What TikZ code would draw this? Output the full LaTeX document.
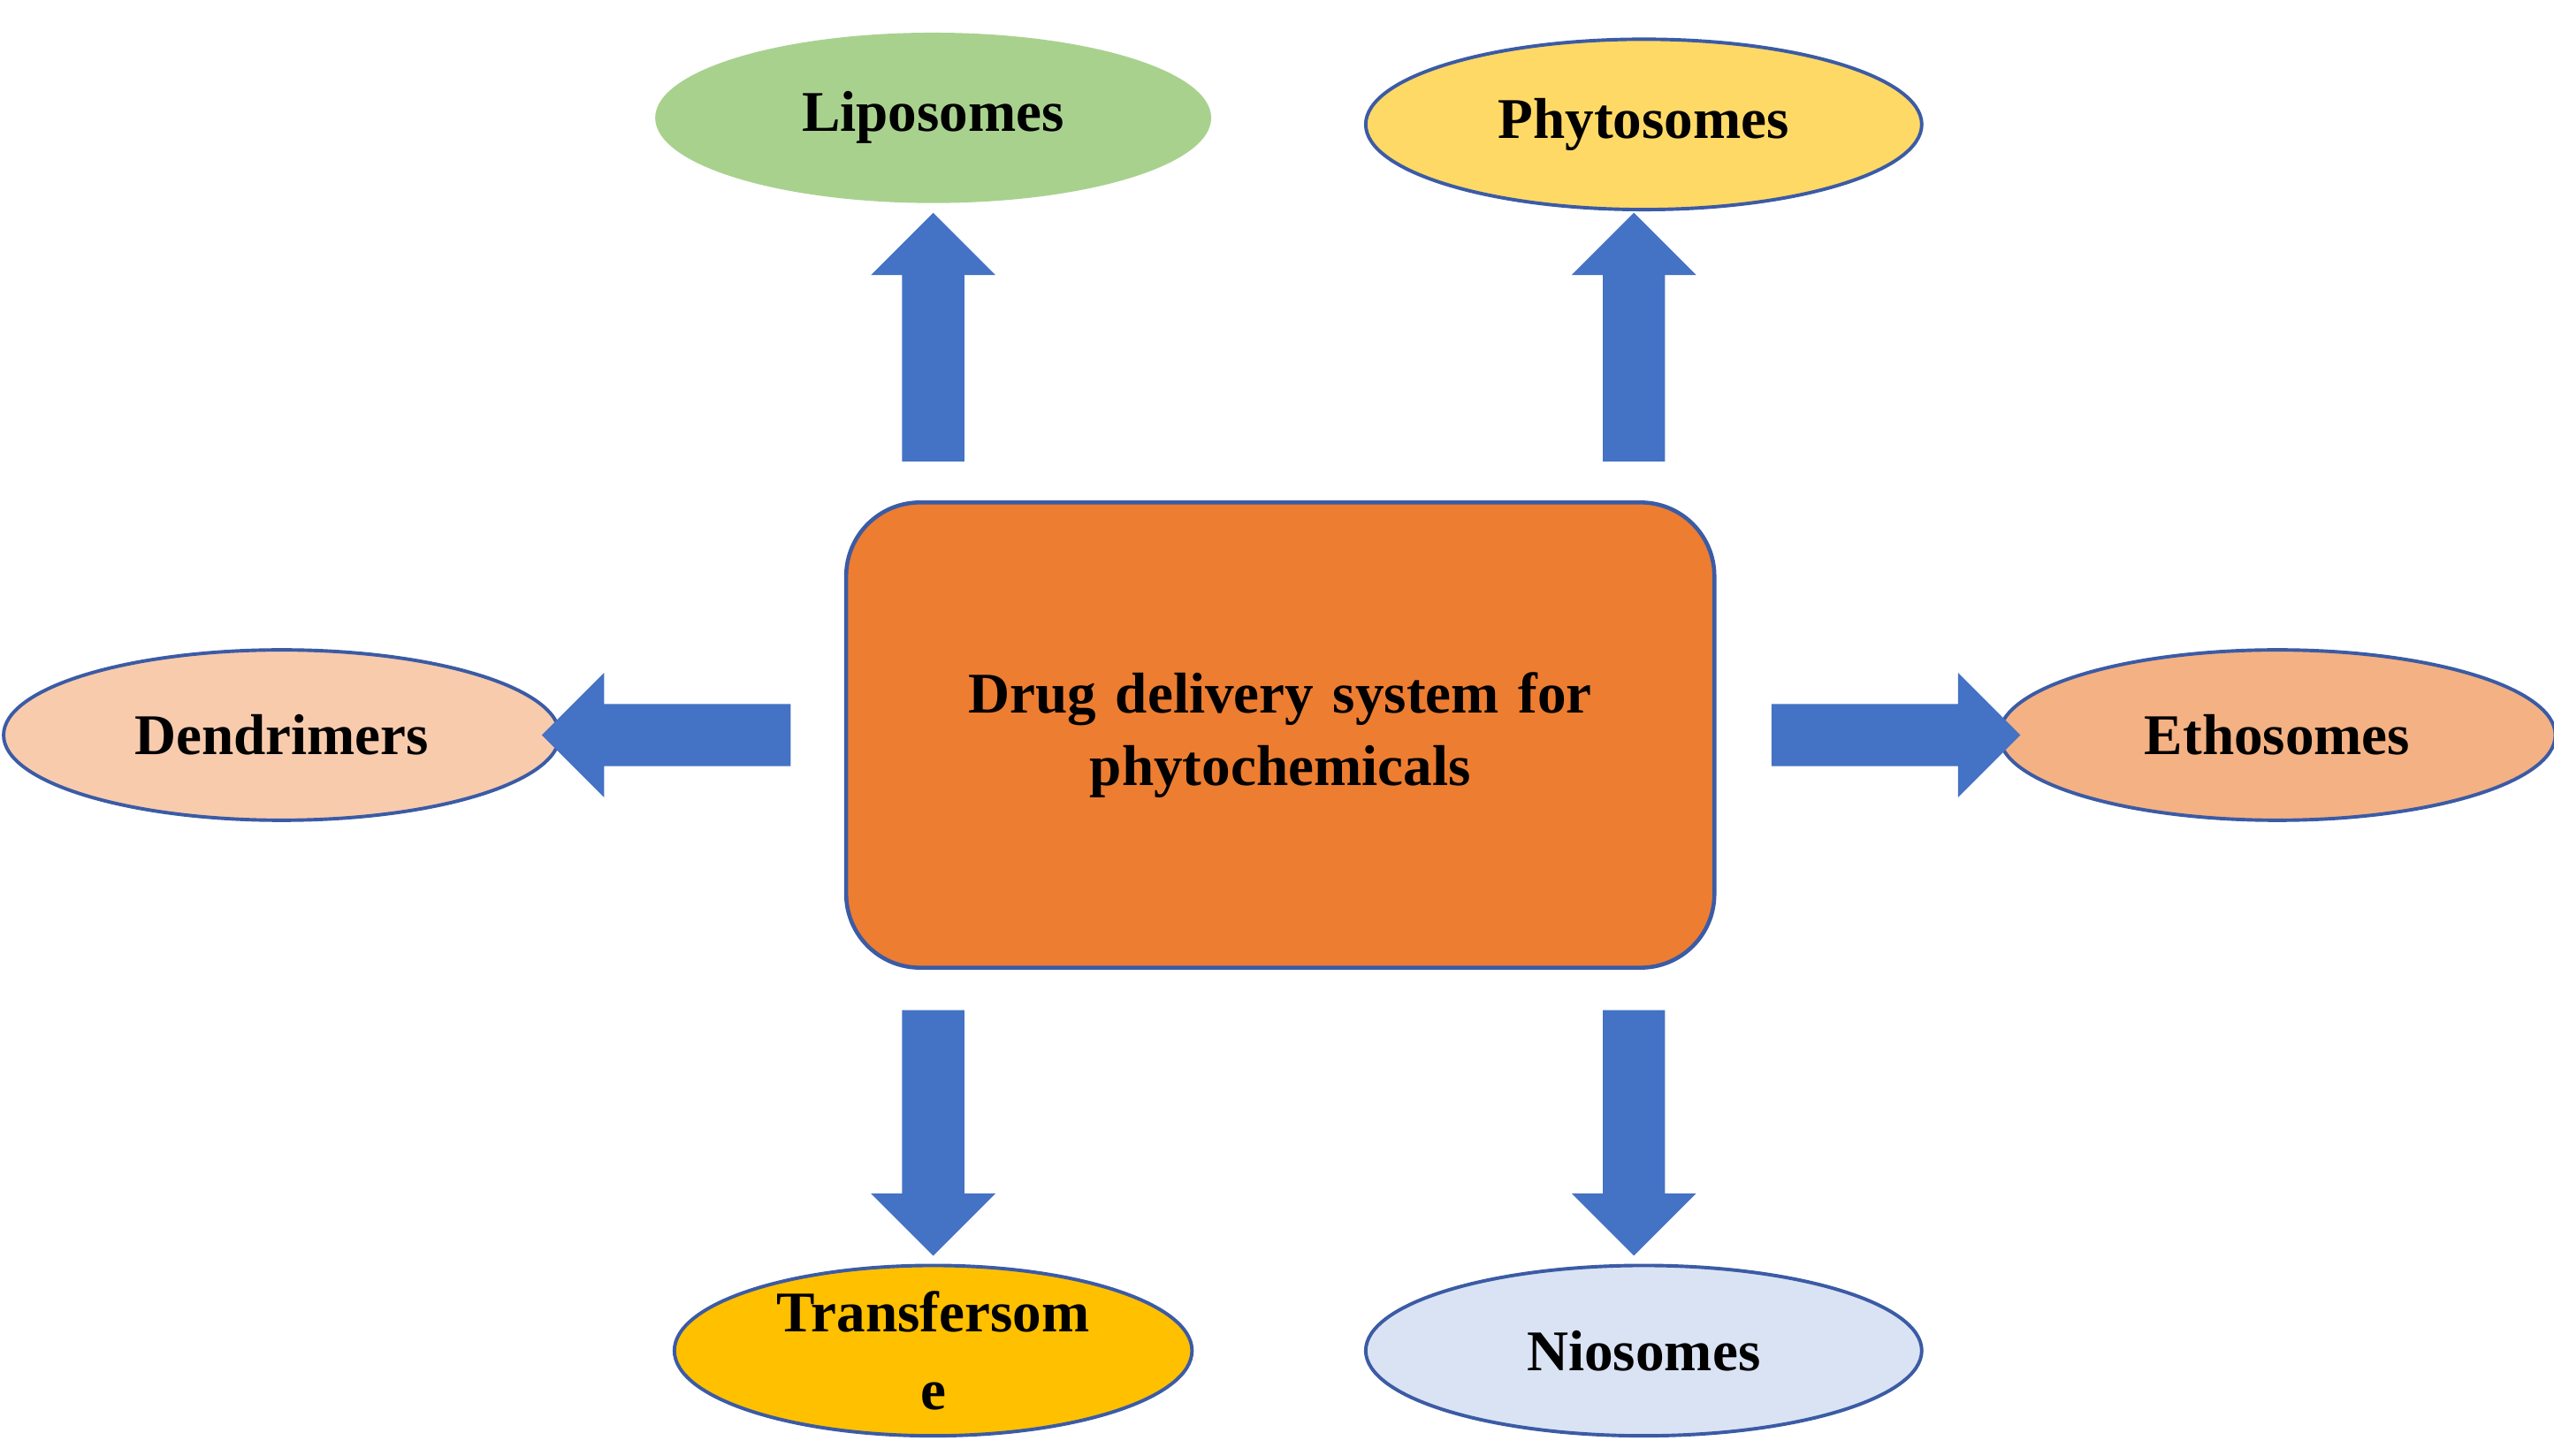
\documentclass[tikz,border=0pt]{standalone}
\usepackage{fontspec}
\setmainfont{Liberation Serif}
\usetikzlibrary{shapes.geometric,positioning}
\definecolor{arrowblue}{HTML}{4472C4}
\definecolor{edgeblue}{HTML}{3B5BA5}
\tikzstyle{box} = [rectangle, draw=edgeblue, line width=0.7pt, fill={rgb,255:red,237;green,125;blue,49},
    minimum width=5.3cm, minimum height=2.84cm, rounded corners=0.45cm, text width=4.6cm, text centered]
\tikzstyle{item} = [ellipse, draw=edgeblue, line width=0.6pt, minimum width=3.16cm, minimum height=1.04cm,
    inner sep=0pt, text width=2.4cm, text centered]
\newcommand{\fatarrow}[3]{%
  \fill[arrowblue, shift={(#1)}, rotate=#2] (0,-19) -- (#3-38,-19) -- (#3-38,-38) -- (#3,0)
      -- (#3-38,38) -- (#3-38,19) -- (0,19) -- cycle;}

\begin{document}
\begin{tikzpicture}[x=0.01cm, y=-0.01cm, font=\fontsize{10}{12.5}\selectfont\bfseries]
    \useasboundingbox[fill=white] (0,0) rectangle (1560,889);
    % Place nodes
    \node [box] (dds) at (782,449) {Drug delivery system for\\ phytochemicals};
    \node [item, fill={rgb,255:red,169;green,209;blue,142}, draw=none] (lipo) at (570,72) {Liposomes};
    \node [item, fill={rgb,255:red,255;green,217;blue,102}] (phyto) at (1004,76) {Phytosomes};
    \node [item, fill={rgb,255:red,248;green,203;blue,173}] (dend) at (172,449) {Dendrimers};
    \node [item, fill={rgb,255:red,244;green,177;blue,131}] (etho) at (1391,449) {Ethosomes};
    \node [item, fill={rgb,255:red,255;green,192;blue,0}, text width=1.95cm] (trans) at (570,825) {Transfersom\\[1pt] e};
    \node [item, fill={rgb,255:red,218;green,227;blue,243}] (nio) at (1004,825) {Niosomes};
    % Draw arrows
    \fatarrow{570,282}{90}{152}
    \fatarrow{998,282}{90}{152}
    \fatarrow{483,449}{180}{152}
    \fatarrow{1082,449}{0}{152}
    \fatarrow{570,617}{-90}{150}
    \fatarrow{998,617}{-90}{150}
\end{tikzpicture}
\end{document}
